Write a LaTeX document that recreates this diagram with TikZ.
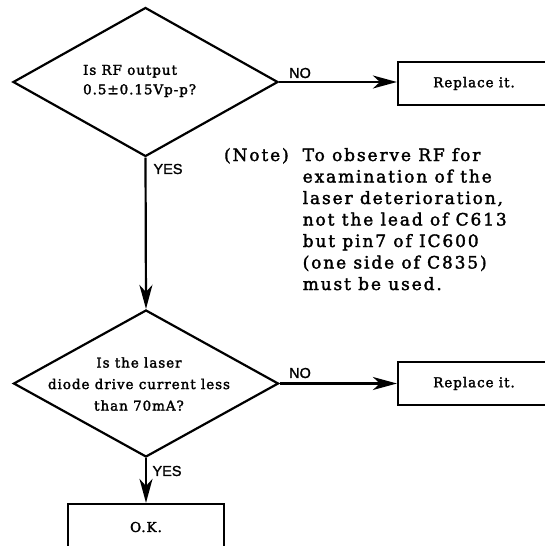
\documentclass[tikz,border=0pt]{standalone}
\usepackage{fontspec}
\usetikzlibrary{shapes.geometric,arrows.meta}
\newfontfamily\dfont[LetterSpace=7,FakeBold=2]{DejaVu Serif}
\newfontfamily\nfont[LetterSpace=11,FakeBold=2]{DejaVu Serif}
\newfontfamily\lfont[FakeBold=1.5]{Liberation Sans}
\begin{document}
\begin{tikzpicture}[x=1pt,y=-1pt,
  line width=2.2pt,
  decision/.style={diamond,draw,minimum width=265pt,minimum height=149pt,inner sep=0pt},
  actbox/.style={rectangle,draw,inner sep=0pt},
  dtext/.style={font=\dfont\fontsize{13.5}{19.5}\selectfont,inner sep=0pt},
  ylabel/.style={font=\lfont\fontsize{14.5}{16}\selectfont,inner sep=0pt},
  flow/.style={-{Stealth[length=24pt,width=13pt,inset=7pt]}}]
\useasboundingbox (0,0) rectangle (545,546);
% decisions
\node[decision] (d1) at (145.5,82) {};
\node[decision,minimum height=147pt] (d2) at (146,383.5) {};
\node[dtext,align=left,anchor=west] (d1t) at (82,81) {Is RF output\\0.5±0.15Vp-p?};
\node[dtext,align=center,font=\dfont\fontsize{13.5}{21.5}\selectfont] (d2t) at (139,384) {Is the laser\\diode drive current less\\than 70mA?};
% action boxes (cut by the page edge)
\node[actbox,minimum width=152pt,minimum height=43pt,font=\dfont\fontsize{13.5}{16}\selectfont] (r1) at (474,83.5) {Replace it.};
\node[actbox,minimum width=152pt,minimum height=43pt,font=\dfont\fontsize{13.5}{16}\selectfont] (r2) at (474,383.5) {Replace it.};
\node[actbox,minimum width=156pt,minimum height=46pt,font=\dfont\fontsize{13.5}{16}\selectfont] (ok) at (146,527) {O.K.};
% connectors
\draw[flow] (d1.east) -- (d1.east -| r1.west);
\draw[flow] (d2.east) -- (d2.east -| r2.west);
\draw[flow] (d1.south) -- (d2.north);
\draw[flow] (d2.south) -- (ok.north);
% branch labels
\node[ylabel] (no1) at (300,73) {NO};
\node[ylabel] (yes1) at (168,169) {YES};
\node[ylabel] (no2) at (300,373) {NO};
\node[ylabel] (yes2) at (167,471) {YES};
% note
\node[anchor=base west,inner sep=0pt,font=\nfont\fontsize{17}{21.5}\selectfont] (note) at (223,161)
 {\begin{tabular}[t]{@{}l@{\hspace{14pt}}l@{}}
 (Note) & To observe RF for\\
  & examination of the\\
  & laser deterioration,\\
  & not the lead of C613\\
  & but pin7 of IC600\\
  & (one side of C835)\\
  & must be used.
 \end{tabular}};
\end{tikzpicture}
\end{document}
